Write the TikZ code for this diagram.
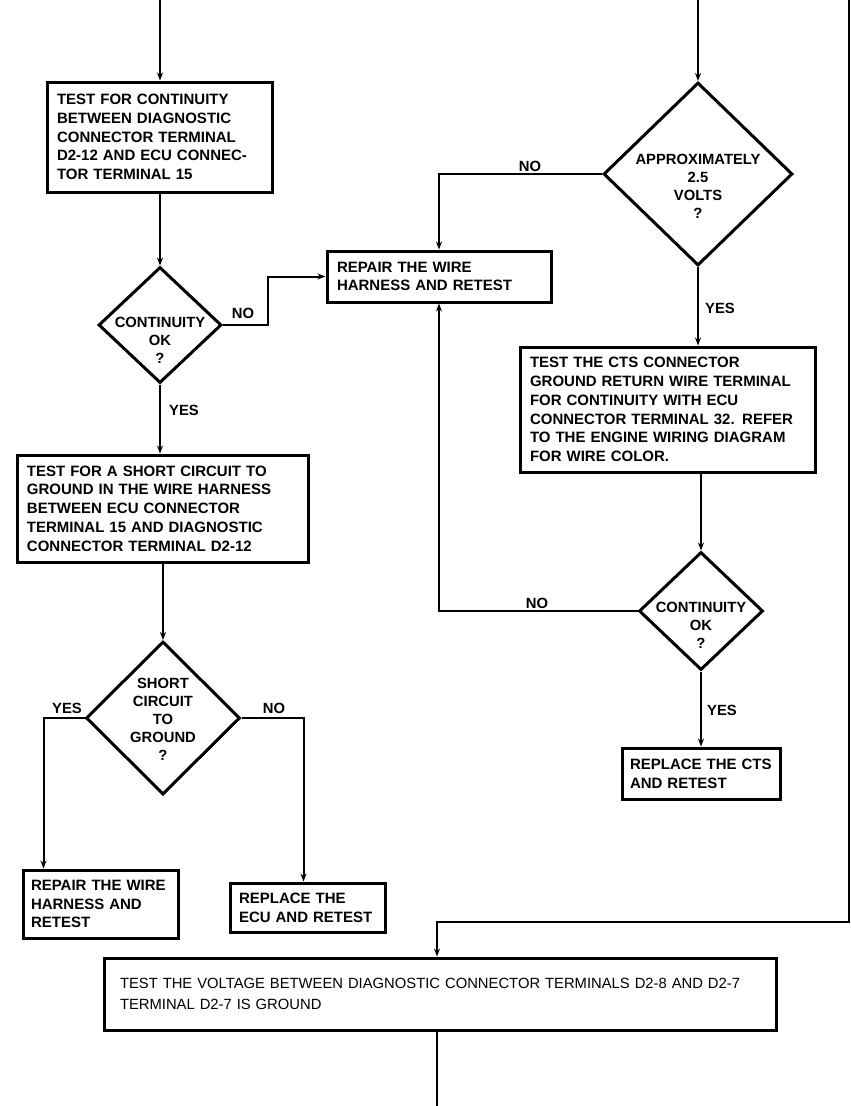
\documentclass[tikz,border=0pt]{standalone}
\usepackage{fontspec}
\setmainfont{Liberation Sans}
\usetikzlibrary{shapes.geometric,arrows.meta,calc}
\begin{document}
\begin{tikzpicture}[x=1pt,y=-1pt,
  box/.style={draw,line width=3pt,inner sep=0pt,align=left,font=\fontsize{15}{18.7}\selectfont\bfseries},
  plainbox/.style={draw,line width=3pt,inner sep=0pt,align=left,font=\fontsize{14.8}{21}\selectfont},
  dia/.style={draw,diamond,line width=3pt,inner sep=0pt},
  dtxt/.style={align=center,font=\fontsize{14.8}{18}\selectfont\bfseries,inner sep=0pt},
  lbl/.style={font=\fontsize{14.8}{17}\selectfont\bfseries,inner sep=0pt},
  conn/.style={line width=2pt},
  arr/.style={conn,-{Stealth[length=8pt,width=6pt]}}]
\fill[white] (0,0) rectangle (851,1106);
\useasboundingbox (0,0) rectangle (851,1106);

% boxes
\node[box,minimum width=225,minimum height=110,text width=205] (box1) at (159.5,137)
 {TEST FOR CONTINUITY\\BETWEEN DIAGNOSTIC\\CONNECTOR TERMINAL\\D2-12 AND ECU CONNEC-\\TOR TERMINAL 15};
\node[box,minimum width=224,minimum height=51,text width=204] (box2) at (439,276.5)
 {REPAIR THE WIRE\\HARNESS AND RETEST};
\node[box,minimum width=295,minimum height=125,text width=275] (box3) at (667.5,409.5)
 {TEST THE CTS CONNECTOR\\GROUND RETURN WIRE TERMINAL\\FOR CONTINUITY WITH ECU\\CONNECTOR TERMINAL 32. REFER\\TO THE ENGINE WIRING DIAGRAM\\FOR WIRE COLOR.};
\node[box,minimum width=158,minimum height=51,text width=142] (box4) at (701,773.5)
 {REPLACE THE CTS\\AND RETEST};
\node[box,minimum width=291,minimum height=107,text width=271] (box6) at (162.5,508.5)
 {TEST FOR A SHORT CIRCUIT TO\\GROUND IN THE WIRE HARNESS\\BETWEEN ECU CONNECTOR\\TERMINAL 15 AND DIAGNOSTIC\\CONNECTOR TERMINAL D2-12};
\node[box,minimum width=155,minimum height=68,text width=139] (box7) at (100.5,904)
 {REPAIR THE WIRE\\HARNESS AND\\RETEST};
\node[box,minimum width=155,minimum height=49,text width=137] (box8) at (307.5,907.5)
 {REPLACE THE\\ECU AND RETEST};
\node[plainbox,minimum width=672,minimum height=72,text width=640] (box5) at (440,994)
 {TEST THE VOLTAGE BETWEEN DIAGNOSTIC CONNECTOR TERMINALS D2-8 AND D2-7\\TERMINAL D2-7 IS GROUND};

% diamonds
\node[dia,minimum width=123,minimum height=116] (d1) at (160,325) {};
\node[dtxt] (t1) at (160,340) {CONTINUITY\\OK\\?};
\node[dia,minimum width=189,minimum height=183] (d2) at (698,174) {};
\node[dtxt] (t2) at (698,186) {APPROXIMATELY\\2.5\\VOLTS\\?};
\node[dia,minimum width=124,minimum height=118] (d3) at (701,611) {};
\node[dtxt] (t3) at (701,625) {CONTINUITY\\OK\\?};
\node[dia,minimum width=154,minimum height=153] (d4) at (163,718) {};
\node[dtxt] (t4) at (163,719) {SHORT\\CIRCUIT\\TO\\GROUND\\?};

% labels
\node[lbl] (l1) at (243,313) {NO};
\node[lbl] (l2) at (184,410) {YES};
\node[lbl] (l3) at (530,166) {NO};
\node[lbl] (l4) at (720,308) {YES};
\node[lbl] (l5) at (537,603) {NO};
\node[lbl] (l6) at (722,710) {YES};
\node[lbl] (l7) at (67,708) {YES};
\node[lbl] (l8) at (274,708) {NO};

% free ends
\coordinate (tl) at (160,0);
\coordinate (tr) at (698,0);
\coordinate (rt) at (849,0);
\coordinate (rb) at (849,922);
\coordinate (bot) at (437,1106);

% connectors
\draw[arr] (tl) -- (tl |- box1.north);
\draw[arr] (box1.south -| d1.north) -- (d1.north);
\draw[arr] (d1.east) -- ++(45,0) |- (box2.west);
\draw[arr] (d1.south) -- (d1.south |- box6.north);
\draw[arr] (box6.south -| d4.north) -- (d4.north);
\draw[arr] (d4.west) -| ($(box7.north west)+(22,0)$);
\draw[arr] (d4.east) -| ($(box8.north west)+(75,0)$);
\draw[arr] (tr) -- (d2.north);
\draw[arr] (d2.west) -| (box2.north);
\draw[arr] (d2.south) -- (d2.south |- box3.north);
\draw[arr] (box3.south -| d3.north) -- (d3.north);
\draw[arr] (d3.west) -| (box2.south);
\draw[arr] (d3.south) -- (box4.north);
\draw[arr] (rt) -- (rb) -| (bot |- box5.north);
\draw[conn] (bot |- box5.south) -- (bot);
\end{tikzpicture}
\end{document}
